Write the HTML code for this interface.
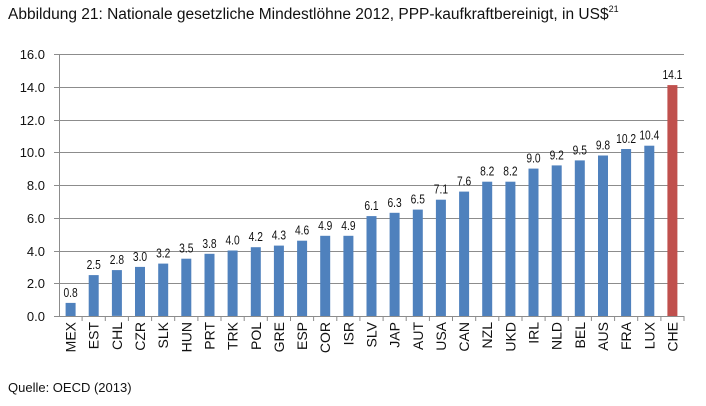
<!DOCTYPE html>
<html><head><meta charset="utf-8"><style>body{margin:0;background:#fff}svg{display:block}</style></head>
<body>
<svg width="706" height="406" xmlns="http://www.w3.org/2000/svg" font-family="Liberation Sans, sans-serif">
<text x="8" y="19" font-size="15.5" fill="#111">Abbildung 21: Nationale gesetzliche Mindestlöhne 2012, PPP-kaufkraftbereinigt, in US$<tspan font-size="9" dy="-7">21</tspan></text>
<g stroke="#8c8c8c" stroke-width="1">
<line x1="59" y1="54.5" x2="684" y2="54.5"/><line x1="59" y1="87.5" x2="684" y2="87.5"/>
<line x1="59" y1="120.5" x2="684" y2="120.5"/><line x1="59" y1="152.5" x2="684" y2="152.5"/>
<line x1="59" y1="185.5" x2="684" y2="185.5"/><line x1="59" y1="218.5" x2="684" y2="218.5"/>
<line x1="59" y1="251.5" x2="684" y2="251.5"/><line x1="59" y1="283.5" x2="684" y2="283.5"/>
<line x1="59" y1="316.5" x2="684" y2="316.5"/>
<line x1="59.5" y1="54" x2="59.5" y2="316"/>
<line x1="54" y1="54.5" x2="59" y2="54.5"/><line x1="54" y1="87.5" x2="59" y2="87.5"/><line x1="54" y1="120.5" x2="59" y2="120.5"/><line x1="54" y1="152.5" x2="59" y2="152.5"/><line x1="54" y1="185.5" x2="59" y2="185.5"/><line x1="54" y1="218.5" x2="59" y2="218.5"/><line x1="54" y1="251.5" x2="59" y2="251.5"/><line x1="54" y1="283.5" x2="59" y2="283.5"/><line x1="54" y1="316.5" x2="59" y2="316.5"/>
</g>
<g font-size="13" fill="#111" text-anchor="end">
<text x="45" y="59">16.0</text><text x="45" y="92">14.0</text><text x="45" y="125">12.0</text><text x="45" y="157">10.0</text><text x="45" y="190">8.0</text><text x="45" y="223">6.0</text><text x="45" y="256">4.0</text><text x="45" y="288">2.0</text><text x="45" y="321">0.0</text>
</g>
<g id="bars"></g>
<text x="8" y="392" font-size="13" fill="#111">Quelle: OECD (2013)</text>
</svg>
<script>
var d=[["MEX",0.8],["EST",2.5],["CHL",2.8],["CZR",3.0],["SLK",3.2],["HUN",3.5],["PRT",3.8],["TRK",4.0],["POL",4.2],["GRE",4.3],["ESP",4.6],["COR",4.9],["ISR",4.9],["SLV",6.1],["JAP",6.3],["AUT",6.5],["USA",7.1],["CAN",7.6],["NZL",8.2],["UKD",8.2],["IRL",9.0],["NLD",9.2],["BEL",9.5],["AUS",9.8],["FRA",10.2],["LUX",10.4],["CHE",14.1]];
var NS="http://www.w3.org/2000/svg",g=document.getElementById("bars"),w=625/27,k=262/16;
function el(t,a,txt){var e=document.createElementNS(NS,t);for(var n in a)e.setAttribute(n,a[n]);if(txt!=null)e.textContent=txt;g.appendChild(e);}
for(var i=0;i<d.length;i++){var c=59+w*(i+0.5),h=d[i][1]*k,y=316-h;
el("rect",{x:(c-5).toFixed(1),y:y.toFixed(1),width:10,height:h.toFixed(1),fill:i==26?"#c0504d":"#4f81bd"});
el("text",{x:0,y:0,"font-size":12.5,"text-anchor":"middle",fill:"#111",transform:"translate("+c.toFixed(1)+" "+(y-6).toFixed(1)+") scale(0.82 1)"},d[i][1].toFixed(1));
var bx=(59+w*(i+1)).toFixed(1);
el("line",{x1:bx,y1:316,x2:bx,y2:321,stroke:"#8c8c8c"});
el("text",{transform:"translate("+(c+5).toFixed(1)+" 322) rotate(-90)","font-size":14,"text-anchor":"end",fill:"#111"},d[i][0]);}
</script>
</body></html>
